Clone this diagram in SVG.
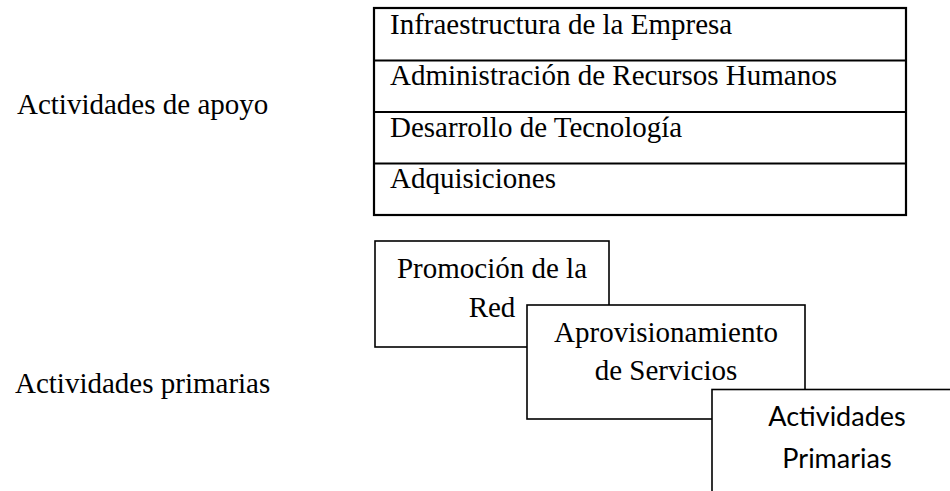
<svg xmlns="http://www.w3.org/2000/svg" width="950" height="491" viewBox="0 0 950 491">
<style>
.serif{font-family:"Liberation Serif","Times New Roman",serif;font-size:29px;fill:#000}
.sans{font-family:Lato,"Open Sans",sans-serif;font-size:27px;fill:#000}
.tbl{fill:#fff;stroke:#000;stroke-width:2.2}
.box{fill:#fff;stroke:#000;stroke-width:1.6}
.mid{text-anchor:middle}
</style>
<rect width="950" height="491" fill="#fff"/>
<g id="label-apoyo"><text class="serif" x="17" y="114">Actividades de apoyo</text></g>
<g id="label-primarias"><text class="serif" x="15" y="393">Actividades primarias</text></g>
<g id="apoyo-table">
<rect class="tbl" x="374" y="8" width="532" height="207"/>
<line x1="374" y1="60.5" x2="906" y2="60.5" stroke="#000" stroke-width="2.2"/>
<line x1="374" y1="112" x2="906" y2="112" stroke="#000" stroke-width="2.2"/>
<line x1="374" y1="163.5" x2="906" y2="163.5" stroke="#000" stroke-width="2.2"/>
</g>
<g id="infraestructura"><text class="serif" x="390" y="34">Infraestructura de la Empresa</text></g>
<g id="rrhh"><text class="serif" x="390" y="85">Administración de Recursos Humanos</text></g>
<g id="tecnologia"><text class="serif" x="390" y="137">Desarrollo de Tecnología</text></g>
<g id="adquisiciones"><text class="serif" x="390" y="188">Adquisiciones</text></g>
<g id="promocion">
<rect class="box" x="375" y="241" width="234" height="106"/>
<text class="serif mid" x="492" y="278">Promoción de la</text>
<text class="serif mid" x="492" y="317">Red</text>
</g>
<g id="aprovisionamiento">
<rect class="box" x="527" y="305" width="278" height="114"/>
<text class="serif mid" x="666" y="342">Aprovisionamiento</text>
<text class="serif mid" x="666" y="380">de Servicios</text>
</g>
<g id="actividades-primarias">
<rect class="box" x="712" y="389.5" width="260" height="120"/>
<text class="sans mid" x="837" y="426">Actividades</text>
<text class="sans mid" x="837" y="468">Primarias</text>
</g>
<g id="connectors"/>
</svg>
